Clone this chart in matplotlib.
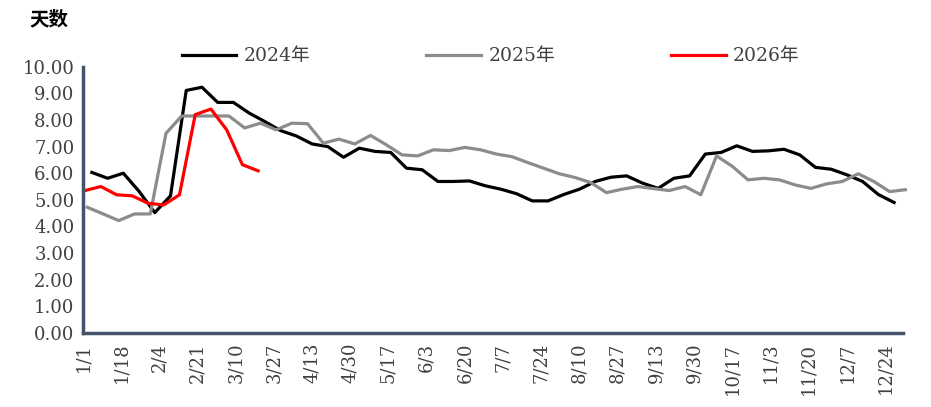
import matplotlib
matplotlib.use("Agg")
import matplotlib.pyplot as plt
import pandas as pd

# ---- data ----
tick_labels = ['1/1', '1/18', '2/4', '2/21', '3/10', '3/27', '4/13', '4/30', '5/17',
               '6/3', '6/20', '7/7', '7/24', '8/10', '8/27', '9/13', '9/30', '10/17',
               '11/3', '11/20', '12/7', '12/24']
y_ticks = [0, 1, 2, 3, 4, 5, 6, 7, 8, 9, 10]

series_names = ['2024年', '2025年', '2026年']
start_2024 = '2024-01-05'
start_2025 = '2025-01-03'
start_2026 = '2026-01-02'

vals_2024 = [6.03, 5.81, 6.00, 5.32, 4.52, 5.15, 9.11, 9.23, 8.66, 8.66, 8.26, 7.94,
             7.60, 7.40, 7.10, 7.00, 6.60, 6.94, 6.82, 6.78, 6.19, 6.13, 5.69, 5.69,
             5.71, 5.53, 5.40, 5.23, 4.96, 4.96, 5.20, 5.40, 5.69, 5.85, 5.90, 5.63,
             5.43, 5.81, 5.90, 6.72, 6.78, 7.03, 6.82, 6.84, 6.90, 6.69, 6.22, 6.15,
             5.94, 5.69, 5.20, 4.90]
vals_2025 = [4.72, 4.47, 4.22, 4.47, 4.47, 7.50, 8.15, 8.15, 8.15, 8.15, 7.70, 7.88,
             7.63, 7.88, 7.86, 7.13, 7.28, 7.10, 7.42, 7.07, 6.69, 6.65, 6.88, 6.85,
             6.97, 6.88, 6.72, 6.62, 6.40, 6.19, 5.98, 5.84, 5.65, 5.27, 5.40, 5.50,
             5.42, 5.35, 5.50, 5.19, 6.65, 6.26, 5.75, 5.81, 5.75, 5.56, 5.43, 5.60,
             5.69, 5.98, 5.69, 5.31, 5.38]
vals_2026 = [5.35, 5.50, 5.19, 5.15, 4.87, 4.81, 5.19, 8.20, 8.41, 7.63, 6.32, 6.09]

colors = ['#000000', '#8c8c8c', '#ff0000']


def day_positions(start, n):
    s = pd.Timestamp(start)
    d = pd.date_range(s, periods=n, freq='7D')
    return list((d - pd.Timestamp(year=s.year, month=1, day=1)).days)


tick_pos = [pd.Timestamp(f'2025-{lbl.split("/")[0]}-{lbl.split("/")[1]}').dayofyear - 1
            for lbl in tick_labels]

# ---- figure ----
serif = ['DejaVu Serif', 'Noto Sans CJK SC']
plt.rcParams['font.family'] = serif

fig = plt.figure(figsize=(9.31, 4.07), dpi=100)
ax = fig.add_axes([0.089, 0.182, 0.881, 0.654])

for name, start, vals, c in zip(series_names,
                                [start_2024, start_2025, start_2026],
                                [vals_2024, vals_2025, vals_2026], colors):
    ax.plot(day_positions(start, len(vals)), vals, color=c, lw=2.3,
            label=name, clip_on=False, solid_joinstyle='round')

ax.set_xlim(0, 365)
ax.set_ylim(0, 10)
ax.set_yticks(y_ticks)
ax.set_yticklabels([f'{v:.2f}' for v in y_ticks])
ax.set_xticks(tick_pos)
ax.set_xticklabels(tick_labels, rotation=90)
ax.tick_params(axis='both', length=0, labelsize=13, labelcolor='#404040')
ax.tick_params(axis='x', pad=7)
ax.tick_params(axis='y', pad=6)

for s in ['top', 'right']:
    ax.spines[s].set_visible(False)
for s in ['left', 'bottom']:
    ax.spines[s].set_color('#44546A')
    ax.spines[s].set_linewidth(2.5)

fig.text(0.053, 0.951, '天数', ha='center', va='center', fontsize=14,
         fontweight='bold', family=['Noto Sans CJK SC', 'DejaVu Sans'], color='#000000')

leg = fig.legend(loc='center', bbox_to_anchor=(0.527, 0.862), ncol=3, frameon=False,
                 fontsize=13.5, handlelength=2.9, handletextpad=0.4,
                 columnspacing=6.2, labelcolor='#404040')

fig.savefig('out.png', dpi=100)
